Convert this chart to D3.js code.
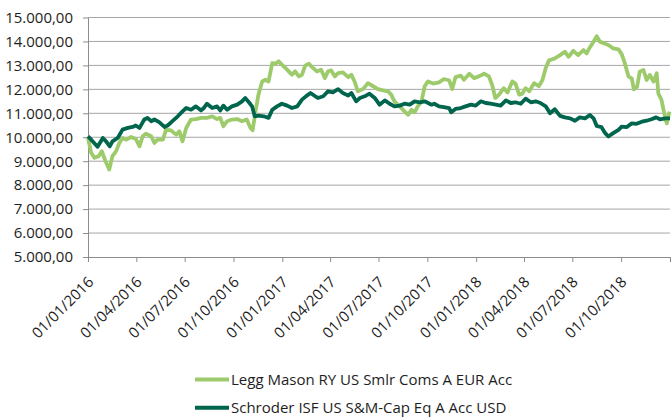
<!DOCTYPE html>
<html>
<head>
<meta charset="utf-8">
<script src="https://cdn.jsdelivr.net/npm/d3@7"></script>
<style>
  body { margin: 0; background: #fff; }
  text { font-family: "Open Sans", sans-serif; fill: #1e1e1e; }
</style>
</head>
<body>
<div id="chart"></div>
<script>
// day offsets are counted from 01/01/2016
const startDate = "2016-01-01";
const endDate = "2019-01-01";

const leggDays = [0, 6, 12, 20, 26, 33, 40, 46, 53, 59, 65, 72, 81, 90, 97, 103, 109, 119, 125, 131, 141, 147, 156, 166, 172, 178, 185, 194, 203, 213,
  224, 234, 243, 249, 255, 262, 271, 281, 290, 299, 306, 310, 315, 321, 328, 334, 340, 347, 353, 359, 365, 372, 378, 384, 390, 397, 403, 409, 416, 422, 431,
  439, 446, 452, 458, 465, 471, 480, 490, 496, 502, 508, 518, 527, 537, 546, 556, 565, 571, 577, 587, 596, 603, 609, 615, 621, 628, 634, 640, 650,
  661, 670, 680, 686, 692, 702, 708, 718, 727, 736, 746, 755, 761, 767, 774, 783, 790, 799, 805, 812, 818, 824, 831, 840, 849, 856, 862, 868,
  879, 889, 898, 905, 914, 923, 933, 939, 945, 952, 958, 964, 970, 980, 989, 999, 1005, 1011, 1018, 1024, 1028, 1034, 1039, 1046, 1052, 1058, 1065, 1071, 1074, 1080, 1087, 1090, 1095];
const leggValues = [9970, 9350, 9140, 9210, 9420, 9000, 8650, 9210, 9420, 9760, 9970, 9900, 10010, 9930, 9620, 10040, 10150, 10040, 9760, 9900, 9900, 10320, 10290, 10110, 10250, 9830, 10390, 10740, 10760, 10810,
  10810, 10875, 10760, 10810, 10460, 10670, 10740, 10760, 10670, 10740, 10390, 10290, 11010, 11780, 12330, 12400, 12330, 13100, 13070, 13170, 13030, 12890, 12750, 12610, 12750, 12540, 12610, 12990, 13070, 12930, 12750,
  12820, 12470, 12750, 12790, 12540, 12680, 12710, 12510, 12610, 12330, 11920, 12010, 12260, 12130, 12010, 11960, 11920, 11780, 11500, 11290, 11080, 10940, 11150, 11040, 11290, 11500, 12130, 12330, 12240,
  12290, 12430, 12380, 12010, 12510, 12570, 12400, 12650, 12470, 12540, 12650, 12540, 12190, 11640, 11780, 12050, 11870, 12330, 12240, 11780, 11820, 12050, 11920, 12260, 12130, 12400, 12890, 13210,
  13290, 13430, 13570, 13360, 13610, 13430, 13640, 13500, 13750, 13990, 14220, 13990, 13940, 13850, 13710, 13670, 13470, 13080, 12530, 12460, 12000, 12110, 12740, 12810, 12390, 12600, 12320, 12670, 11830, 11560, 10790, 10580, 11070];

const schroderDays = [0, 6, 18, 28, 34, 41, 46, 56, 65, 75, 84, 90, 97, 106, 112, 119, 125, 134, 144, 150, 159, 169, 178, 185, 194, 203, 213, 218,
  224, 234, 243, 249, 255, 262, 271, 281, 290, 296, 303, 309, 314, 321, 331, 340, 347, 356, 365, 375, 384, 394, 403, 412, 419, 428,
  433, 443, 452, 461, 471, 480, 490, 496, 505, 512, 521, 530, 540, 549, 559, 568, 577, 587, 596, 606, 615, 625, 634, 647,
  652, 661, 670, 680, 684, 692, 702, 711, 721, 730, 740, 749, 758, 768, 777, 787, 796, 805, 815, 824, 834, 843, 852, 862,
  870, 879, 889, 898, 908, 917, 926, 936, 945, 952, 958, 967, 974, 980, 989, 999, 1005, 1014, 1024, 1033, 1043, 1052, 1061, 1070, 1077, 1087, 1096];
const schroderValues = [10040, 9900, 9600, 9970, 9830, 9620, 9830, 9970, 10320, 10390, 10430, 10490, 10390, 10740, 10810, 10670, 10740, 10630, 10430, 10490, 10670, 10875, 11080, 11220, 11150, 11290, 11120, 11220,
  11400, 11220, 11290, 11120, 11320, 11150, 11290, 11360, 11500, 11640, 11460, 11290, 10875, 10900, 10875, 10810, 11150, 11290, 11400, 11320, 11220, 11290, 11570, 11740, 11850, 11710,
  11640, 11710, 11920, 11870, 12010, 11850, 11740, 11850, 11500, 11640, 11710, 11820, 11640, 11360, 11540, 11400, 11290, 11320, 11400, 11360, 11500, 11460, 11500, 11360,
  11400, 11290, 11260, 11220, 11040, 11180, 11220, 11290, 11360, 11320, 11500, 11430, 11400, 11360, 11320, 11540, 11430, 11460, 11400, 11610, 11460, 11500, 11430, 11290,
  11000, 11170, 10890, 10830, 10790, 10690, 10830, 10790, 10930, 10790, 10470, 10420, 10170, 10030, 10170, 10310, 10440, 10420, 10580, 10560, 10650, 10690, 10750, 10830, 10750, 10790, 10790];

const seriesNames = ["Legg Mason RY US Smlr Coms A EUR Acc", "Schroder ISF US S&M-Cap Eq A Acc USD"];
const yTicks = [5000, 6000, 7000, 8000, 9000, 10000, 11000, 12000, 13000, 14000, 15000];
const xTickDates = ["2016-01-01", "2016-04-01", "2016-07-01", "2016-10-01", "2017-01-01", "2017-04-01", "2017-07-01",
  "2017-10-01", "2018-01-01", "2018-04-01", "2018-07-01", "2018-10-01", "2019-01-01"];
const xTickLabels = ["01/01/2016", "01/04/2016", "01/07/2016", "01/10/2016", "01/01/2017", "01/04/2017", "01/07/2017",
  "01/10/2017", "01/01/2018", "01/04/2018", "01/07/2018", "01/10/2018", ""];

const colors = ["#9dcb6b", "#00654d"];

const width = 672, height = 418;
const plot = { left: 88, right: 670, top: 17.5, bottom: 257 };

const parse = d3.utcParse("%Y-%m-%d");
const start = parse(startDate);

const svg = d3.select("#chart").append("svg")
  .attr("width", width)
  .attr("height", height);

const x = d3.scaleUtc()
  .domain([start, parse(endDate)])
  .range([plot.left, plot.right]);

const y = d3.scaleLinear()
  .domain([5000, 15000])
  .range([plot.bottom, plot.top]);

const locale = d3.formatLocale({ decimal: ",", thousands: ".", grouping: [3], currency: ["", ""] });
const fmt = locale.format(",.2f");

// horizontal gridlines
svg.append("g")
  .selectAll("line")
  .data(yTicks.slice(1))
  .join("line")
  .attr("x1", plot.left)
  .attr("x2", plot.right)
  .attr("y1", d => y(d))
  .attr("y2", d => y(d))
  .attr("stroke", "#a6a6a6")
  .attr("stroke-width", 1);

// y axis
const yAxis = svg.append("g")
  .attr("transform", `translate(${plot.left},0)`)
  .call(d3.axisLeft(y).tickValues(yTicks).tickFormat(fmt).tickSize(5).tickSizeOuter(0).tickPadding(10));
yAxis.select(".domain").attr("stroke", "#8c8c8c");
yAxis.selectAll(".tick line").attr("stroke", "#8c8c8c");
yAxis.selectAll("text")
  .attr("font-size", 15)
  .attr("font-family", "Open Sans")
  .attr("fill", "#1e1e1e");

// x axis
const xAxis = svg.append("g")
  .attr("transform", `translate(0,${plot.bottom})`)
  .call(d3.axisBottom(x)
    .tickValues(xTickDates.map(parse))
    .tickFormat((d, i) => xTickLabels[i])
    .tickSize(5)
    .tickSizeOuter(0));
xAxis.select(".domain").attr("stroke", "#8c8c8c");
xAxis.selectAll(".tick line").attr("stroke", "#8c8c8c");
xAxis.selectAll("text")
  .attr("font-size", 15)
  .attr("font-family", "Open Sans")
  .attr("fill", "#1e1e1e")
  .attr("text-anchor", "end")
  .attr("x", 0)
  .attr("y", 0)
  .attr("dy", 0)
  .attr("transform", "translate(6,26) rotate(-45)");

// lines
const series = [
  leggDays.map((d, i) => ({ date: d3.utcDay.offset(start, d), value: leggValues[i] })),
  schroderDays.map((d, i) => ({ date: d3.utcDay.offset(start, d), value: schroderValues[i] }))
];

const line = d3.line()
  .x(d => x(d.date))
  .y(d => y(d.value));

svg.append("g")
  .selectAll("path")
  .data(series)
  .join("path")
  .attr("d", line)
  .attr("fill", "none")
  .attr("stroke", (d, i) => colors[i])
  .attr("stroke-width", 3.8)
  .attr("stroke-linejoin", "round");

// legend
const legend = svg.append("g")
  .selectAll("g")
  .data(seriesNames)
  .join("g")
  .attr("transform", (d, i) => `translate(195,${379.5 + i * 28.3})`);

legend.append("line")
  .attr("x1", 0)
  .attr("x2", 34)
  .attr("stroke", (d, i) => colors[i])
  .attr("stroke-width", 4);

legend.append("text")
  .attr("x", 36)
  .attr("dy", "0.35em")
  .attr("font-size", 15)
  .text(d => d);
</script>
</body>
</html>
